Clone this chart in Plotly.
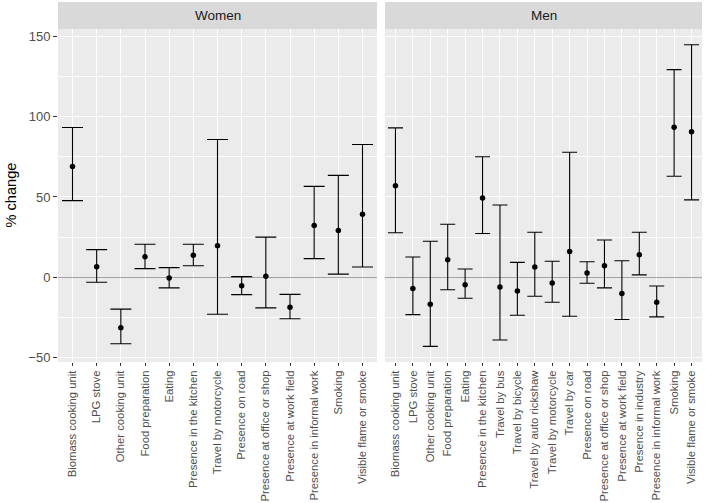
import plotly.graph_objects as go

women_cats = ["Biomass cooking unit", "LPG stove", "Other cooking unit", "Food preparation", "Eating",
              "Presence in the kitchen", "Travel by motorcycle", "Presence on road",
              "Presence at office or shop", "Presence at work field", "Presence in informal work",
              "Smoking", "Visible flame or smoke"]
women_est = [69, 6.6, -31.4, 12.8, -0.4, 13.8, 19.6, -5.2, 0.6, -18.6, 32.2, 29.1, 39.2]
women_hi = [93.2, 17.2, -19.8, 20.6, 6.0, 20.6, 85.7, 0.4, 25.0, -10.6, 56.6, 63.4, 82.6]
women_lo = [47.7, -3.1, -41.3, 5.4, -6.6, 7.2, -23.0, -10.8, -19.0, -25.8, 11.6, 2.0, 6.4]

men_cats = ["Biomass cooking unit", "LPG stove", "Other cooking unit", "Food preparation", "Eating",
            "Presence in the kitchen", "Travel by bus", "Travel by bicycle", "Travel by auto rickshaw",
            "Travel by motorcycle", "Travel by car", "Presence on road", "Presence at office or shop",
            "Presence at work field", "Presence in industry", "Presence in informal work",
            "Smoking", "Visible flame or smoke"]
men_est = [57, -7, -16.8, 11, -4.6, 49.3, -6, -8.5, 6.4, -3.5, 16, 2.7, 7.2, -10, 14, -15.5, 93.4, 90.5]
men_hi = [93, 12.6, 22.4, 33, 5.2, 75, 45, 9.3, 28, 10, 77.8, 9.7, 23.2, 10.3, 28, -5.4, 129.2, 144.7]
men_lo = [27.7, -23.2, -43, -7.7, -13, 27.3, -39, -23.6, -11.8, -15.5, -24.2, -3.7, -6.6, -26.3, 1.5, -24.6, 62.9, 48.2]

W, H = 706, 503
ml, mr, mt, mb = 58, 4, 29, 141
pw = W - ml - mr
ph = H - mt - mb
d1 = (377 - ml) / pw
d2 = (385 - ml) / pw
FONT = "Liberation Sans"

fig = go.Figure()

def add_panel(cats, est, hi, lo, xa, ya, capw):
    fig.add_trace(go.Scatter(
        x=cats, y=est, mode="markers", xaxis=xa, yaxis=ya,
        marker=dict(color="black", size=5.5),
        error_y=dict(type="data", symmetric=False,
                     array=[h - e for h, e in zip(hi, est)],
                     arrayminus=[e - l for e, l in zip(est, lo)],
                     color="black", thickness=1.1, width=capw),
        showlegend=False, hoverinfo="skip"))

add_panel(women_cats, women_est, women_hi, women_lo, "x", "y", 10.5)
add_panel(men_cats, men_est, men_hi, men_lo, "x2", "y2", 7.5)

yr = [-52.7, 154.5]
xcommon = dict(type="category", showgrid=True, gridcolor="white", gridwidth=1.1,
               ticks="outside", ticklen=3, tickcolor="#333333", tickwidth=1, tickangle=-90,
               tickfont=dict(family=FONT, size=11.3, color="#4D4D4D"),
               showline=False, zeroline=False, automargin=False)
ycommon = dict(range=yr, tickvals=[-50, 0, 50, 100, 150], showgrid=True, gridcolor="white",
               gridwidth=1.1, zeroline=True, zerolinecolor="#A3A3A3", zerolinewidth=1.1,
               minor=dict(tickvals=[-25, 25, 75, 125], showgrid=True, gridcolor="white", gridwidth=0.5),
               showline=False, automargin=False)

fig.update_layout(
    width=W, height=H,
    margin=dict(l=ml, r=mr, t=mt, b=mb),
    paper_bgcolor="white", plot_bgcolor="#EBEBEB",
    font=dict(family=FONT, color="#1A1A1A"),
    xaxis=dict(domain=[0, d1], range=[-0.6, len(women_cats) - 0.4], anchor="y", **xcommon),
    xaxis2=dict(domain=[d2, 1], range=[-0.6, len(men_cats) - 0.4], anchor="y2", **xcommon),
    yaxis=dict(ticks="outside", ticklen=4, tickcolor="#333333", tickwidth=1,
               tickfont=dict(family=FONT, size=13, color="#4D4D4D"), anchor="x",
               **ycommon),
    yaxis2=dict(anchor="x2", showticklabels=False, ticks="", **ycommon),
)

fig.add_shape(type="rect", xref="paper", yref="paper", x0=d1, x1=d2, y0=0, y1=1,
              fillcolor="white", line=dict(width=0), layer="below")

strip_h = 27 / ph
for x0, x1, label in [(0, d1, "Women"), (d2, 1, "Men")]:
    fig.add_shape(type="rect", xref="paper", yref="paper", x0=x0, x1=x1, y0=1, y1=1 + strip_h,
                  fillcolor="#D9D9D9", line=dict(width=0))
    fig.add_annotation(xref="paper", yref="paper", x=(x0 + x1) / 2, y=1 + strip_h / 2,
                       text=label, showarrow=False, xanchor="center", yanchor="middle",
                       font=dict(family=FONT, size=13.5, color="#1A1A1A"))

fig.add_annotation(xref="paper", yref="paper", x=(10 - ml) / pw, y=0.5, text="% change",
                   textangle=-90, showarrow=False, xanchor="center", yanchor="middle",
                   font=dict(family=FONT, size=14.6, color="black"))

fig.write_html("out.html", config={"displayModeBar": False},
               post_script="document.body.style.margin='0';")
